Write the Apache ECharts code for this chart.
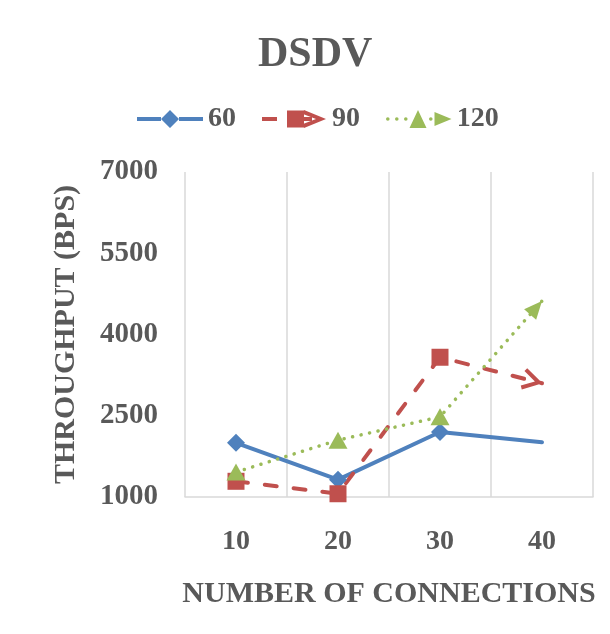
<!DOCTYPE html>
<html>
<head>
<meta charset="utf-8">
<script src="https://cdn.jsdelivr.net/npm/echarts@6/dist/echarts.min.js"></script>
<style>
  html, body { margin: 0; padding: 0; background: #ffffff; }
  #chart { width: 610px; height: 634px; }
</style>
</head>
<body>
<div id="chart"></div>
<script>
// Throughput of DSDV by number of connections, one series per node count
const categories = ['10', '20', '30', '40'];
const seriesNames = ['60', '90', '120'];
const values60 = [2000, 1320, 2200, 2010];
const values90 = [1290, 1060, 3580, 3100];
const values120 = [1460, 2050, 2480, 4620];
const yTickLabels = [1000, 2500, 4000, 5500, 7000];

const FONT = "'Liberation Serif', 'Times New Roman', serif";
const TEXT = '#595959';
const GRID_LINE = '#d9d9d9';
const BLUE = '#4f81bd';
const RED = '#c0504d';
const GREEN = '#9bbb59';

// End-of-line arrowheads: tip sits at the local origin, a bare moveTo on the
// opposite side keeps the symbol centred on the tip so rotation pivots there.
const OPEN_ARROW = 'path://M20 0 M-19 -11 L0 0 L-19 11 L-21 7.5 L-8 0 L-21 -7.5 Z';
const SOLID_ARROW = 'path://M18 0 M-18 -8 L0 0 L-18 8 Z';

// Legend glyphs (66 x 18): line style, marker and end arrow of each series
const ICON_60 = 'path://M0 7 H24 V11 H0 Z M42 7 H66 V11 H42 Z M24 9 L33 0 L42 9 L33 18 Z';
const ICON_90 = 'path://M2 7 H17 V11 H2 Z M27 0.5 H44 V17.5 H27 Z M44 7 H52 V11 H44 Z M44 0 L66 9 L44 18 L43 14 L56 9 L43 4 Z';
const ICON_120 = 'path://M0.5 9 a1.8 1.8 0 1 0 3.6 0 a1.8 1.8 0 1 0 -3.6 0 Z ' +
  'M9.5 9 a1.8 1.8 0 1 0 3.6 0 a1.8 1.8 0 1 0 -3.6 0 Z ' +
  'M18.5 9 a1.8 1.8 0 1 0 3.6 0 a1.8 1.8 0 1 0 -3.6 0 Z ' +
  'M24 18 L32.5 0 L41 18 Z ' +
  'M43.5 9 a1.8 1.8 0 1 0 3.6 0 a1.8 1.8 0 1 0 -3.6 0 Z ' +
  'M49 2 L66 9 L49 16 Z';

function buildData(values, endSymbol, endSize, endRotate) {
  return values.map(function (v, i) {
    if (i < values.length - 1) return v;
    return { value: v, symbol: endSymbol, symbolSize: endSize, symbolRotate: endRotate };
  });
}

const chart = echarts.init(document.getElementById('chart'), null, { renderer: 'canvas' });

function makeOption(rot90, rot120) {
  return {
    animation: false,
    backgroundColor: '#ffffff',
    title: {
      text: 'DSDV',
      left: 258,
      top: 34,
      padding: 0,
      textStyle: { fontFamily: FONT, fontWeight: 'bold', fontSize: 42, color: TEXT }
    },
    legend: {
      left: 137,
      top: 105,
      padding: 0,
      itemWidth: 66,
      itemHeight: 18,
      itemGap: 26,
      itemStyle: { borderWidth: 0 },
      textStyle: { fontFamily: FONT, fontWeight: 'bold', fontSize: 28, color: TEXT },
      data: [
        { name: seriesNames[0], icon: ICON_60 },
        { name: seriesNames[1], icon: ICON_90 },
        { name: seriesNames[2], icon: ICON_120 }
      ]
    },
    grid: { left: 185, right: 17, top: 172, bottom: 137, containLabel: false },
    xAxis: {
      type: 'category',
      data: categories,
      boundaryGap: true,
      name: 'NUMBER OF CONNECTIONS',
      nameLocation: 'middle',
      nameGap: 82,
      nameTextStyle: { fontFamily: FONT, fontWeight: 'bold', fontSize: 30, color: TEXT },
      axisLine: { show: true, lineStyle: { color: GRID_LINE, width: 1.5 } },
      axisTick: { show: false },
      axisLabel: { margin: 31, fontFamily: FONT, fontWeight: 'bold', fontSize: 28, color: TEXT },
      splitLine: { show: true, lineStyle: { color: GRID_LINE, width: 1.5 } }
    },
    yAxis: {
      type: 'value',
      min: 1000,
      max: 7000,
      name: 'THROUGHPUT (BPS)',
      nameLocation: 'middle',
      nameGap: 104,
      nameTextStyle: { fontFamily: FONT, fontWeight: 'bold', fontSize: 30, color: TEXT },
      axisLine: { show: false },
      axisTick: { show: false },
      splitLine: { show: false },
      axisLabel: {
        customValues: yTickLabels,
        formatter: function (v) { return String(v); },
        margin: 27,
        fontFamily: FONT, fontWeight: 'bold', fontSize: 29, color: TEXT
      }
    },
    series: [
      {
        name: seriesNames[0],
        type: 'line',
        data: buildData(values60, 'none', 0, 0),
        symbol: 'diamond',
        symbolSize: [18, 18],
        itemStyle: { color: BLUE, borderWidth: 0 },
        lineStyle: { color: BLUE, width: 4, cap: 'round', join: 'round' }
      },
      {
        name: seriesNames[1],
        type: 'line',
        data: buildData(values90, OPEN_ARROW, [40, 22], rot90),
        symbol: 'rect',
        symbolSize: [17, 17],
        itemStyle: { color: RED, borderWidth: 0 },
        lineStyle: { color: RED, width: 4, type: [12, 17], cap: 'round', join: 'round' }
      },
      {
        name: seriesNames[2],
        type: 'line',
        data: buildData(values120, SOLID_ARROW, [36, 16], rot120),
        symbol: 'triangle',
        symbolSize: [19, 17],
        itemStyle: { color: GREEN, borderWidth: 0 },
        lineStyle: { color: GREEN, width: 3.5, type: [0.1, 8.6], cap: 'round', join: 'round' }
      }
    ]
  };
}

chart.setOption(makeOption(0, 0));

// Orient each arrowhead along the last segment of its line
function endAngle(seriesIndex, values) {
  const n = values.length;
  const a = chart.convertToPixel({ seriesIndex: seriesIndex }, [categories[n - 2], values[n - 2]]);
  const b = chart.convertToPixel({ seriesIndex: seriesIndex }, [categories[n - 1], values[n - 1]]);
  return Math.atan2(-(b[1] - a[1]), b[0] - a[0]) * 180 / Math.PI;
}

chart.setOption(makeOption(endAngle(1, values90), endAngle(2, values120)));
</script>
</body>
</html>
